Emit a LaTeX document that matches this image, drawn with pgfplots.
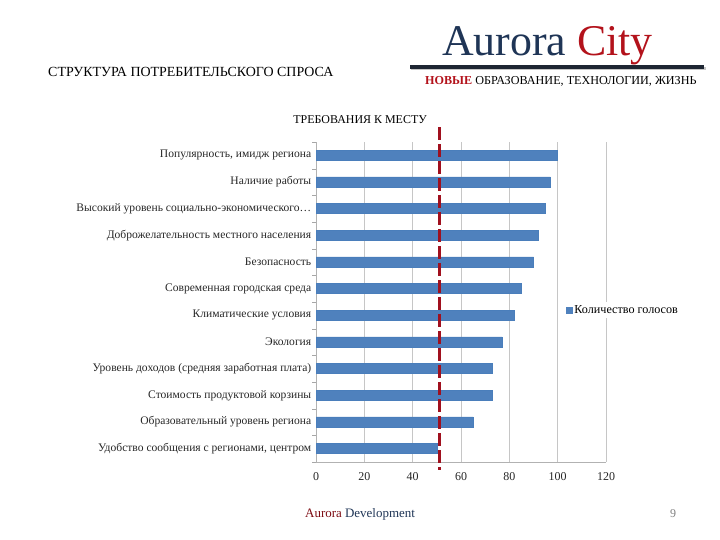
\documentclass[border=0pt]{standalone}
\usepackage{fontspec}
\setmainfont{Liberation Serif}
\usepackage{pgfplots}
\pgfplotsset{compat=1.18}
\definecolor{barblue}{HTML}{4F81BD}
\definecolor{bardraw}{HTML}{4A7EBB}
\definecolor{cityred}{HTML}{B3121B}
\definecolor{auroranavy}{HTML}{1F3556}
\definecolor{dashred}{HTML}{A0101E}
\definecolor{rulecol}{HTML}{1E2633}

\begin{document}
\begin{tikzpicture}[x=1bp,y=1bp]
  % page frame, 720 x 540
  \path[use as bounding box] (0,0) rectangle (720,540);

  % header
  \node[anchor=west, inner sep=0pt, font=\fontsize{14}{16}\selectfont] at (48,468)
    {СТРУКТУРА ПОТРЕБИТЕЛЬСКОГО СПРОСА};
  \node[anchor=base west, inner sep=0pt, font=\fontsize{44}{48}\selectfont] at (442,484)
    {\textcolor{auroranavy}{Aurora} \textcolor{cityred}{City}};
  \fill[gray!45] (411,470.2) rectangle (706,473.2);
  \fill[rulecol] (410,471.2) rectangle (704,474.5);
  \node[anchor=base west, inner sep=0pt, font=\fontsize{12.2}{14}\selectfont] at (425,455.5)
    {\textcolor{cityred}{\textbf{НОВЫЕ}} ОБРАЗОВАНИЕ, ТЕХНОЛОГИИ, ЖИЗНЬ};

  % footer
  \node[anchor=base west, inner sep=0pt, font=\fontsize{13}{15}\selectfont] at (305,22)
    {\textcolor{cityred!70!black}{Aurora} \textcolor{auroranavy}{Development}};
  \node[anchor=base, inner sep=0pt, font=\fontsize{12}{14}\selectfont, text=gray] at (673,22) {9};

  \begin{axis}[
      at={(316bp,78bp)}, anchor=south west,
      scale only axis,
      width=290bp, height=320bp,
      xbar,
      bar width=10bp,
      xmin=0, xmax=120,
      ymin=-0.5, ymax=11.5,
      xtick={0,20,...,120},
      ytick={0,...,11},
      yticklabels={
        Удобство сообщения с регионами{,} центром,
        Образовательный уровень региона,
        Стоимость продуктовой корзины,
        Уровень доходов (средняя заработная плата),
        Экология,
        Климатические условия,
        Современная городская среда,
        Безопасность,
        Доброжелательность местного населения,
        Высокий уровень социально-экономического…,
        Наличие работы,
        {Популярность, имидж региона}
      },
      minor ytick={-0.5,0.5,...,11.5},
      major y tick style={draw=none},
      minor y tick style={gray!70},
      minor tick length=4bp,
      tick align=outside,
      major x tick style={draw=none},
      xmajorgrids,
      grid style={gray!45, line width=0.6pt},
      axis x line*=bottom,
      axis y line*=left,
      axis line style={gray!60, line width=0.6pt},
      ticklabel style={font=\fontsize{12}{14}\selectfont, text=black!85},
      /pgf/number format/assume math mode=true,
      yticklabel style={font=\fontsize{11.6}{14}\selectfont, xshift=3bp},
      xticklabel style={yshift=-3bp},
      title={ТРЕБОВАНИЯ К МЕСТУ},
      title style={font=\fontsize{12}{14}\selectfont, at={(0.152,1)}, anchor=base, yshift=13bp},
      legend style={
        at={(0.858,0.475)}, anchor=west,
        draw=none, fill=white, inner sep=1pt,
        font=\fontsize{12.2}{14}\selectfont,
      },
      legend image code/.code={
        \fill[barblue] (0bp,-3bp) rectangle (6bp,3bp);
      },
      clip=false,
    ]
    \addplot[fill=barblue, draw=bardraw] coordinates {
      (50,0) (65,1) (73,2) (73,3) (77,4) (82,5)
      (85,6) (90,7) (92,8) (95,9) (97,10) (100,11)
    };
    \addlegendentry{Количество голосов}

    % red dashed marker line
    \draw[dashred, line width=3.5bp, dash pattern=on 13bp off 4bp]
      (axis cs:51,12.05) -- (axis cs:51,-0.8);
  \end{axis}
\end{tikzpicture}
\end{document}
